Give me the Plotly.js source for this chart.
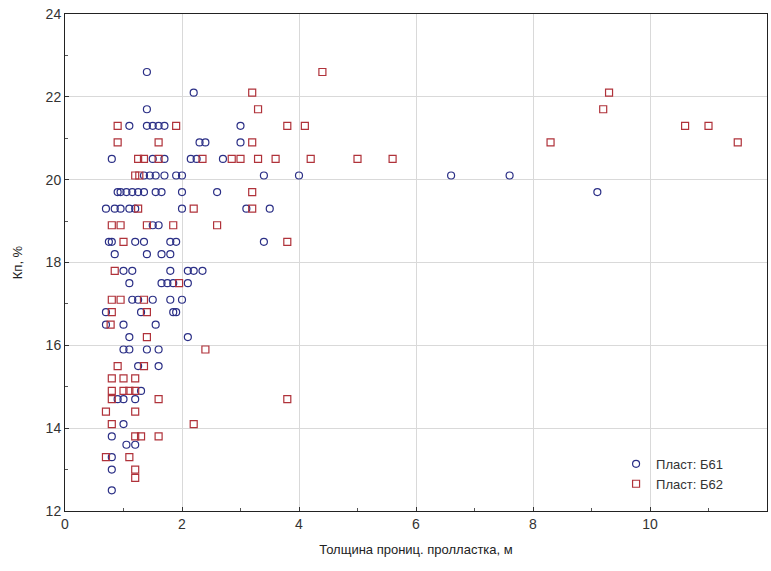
<!DOCTYPE html>
<html>
<head>
<meta charset="utf-8">
<script src="https://cdn.plot.ly/plotly-3.0.1.min.js"></script>
<style>html,body{margin:0;padding:0;background:#fff;}#chart{width:771px;height:571px;}</style>
</head>
<body>
<div id="chart"></div>
<script>
// Пласт: Б61 (circles)
const b61_x = [1.4,2.2,1.4,
  1.1,1.4,1.5,1.6,1.7,3.0,
  2.3,2.4,3.0,
  0.8,1.5,1.7,2.15,2.25,2.7,
  1.35,1.45,1.55,1.7,1.9,2.0,3.4,4.0,6.6,7.6,
  0.9,0.95,1.05,1.15,1.25,1.35,1.55,1.65,2.0,2.6,9.1,
  0.7,0.85,0.95,1.1,1.2,2.0,3.1,3.5,
  1.5,1.6,
  0.75,0.8,1.2,1.35,1.8,1.9,3.4,
  0.85,1.4,1.65,1.8,
  1.0,1.15,1.8,2.1,2.2,2.35,
  1.1,1.65,1.75,1.85,2.1,
  1.15,1.25,1.5,1.8,2.0,
  0.7,1.3,1.85,1.9,
  0.7,1.0,1.55,
  1.1,2.1,
  1.0,1.1,1.4,1.6,
  1.25,1.6,
  1.3,
  0.9,1.0,1.2,
  1.0,
  0.8,
  1.05,1.2,
  0.8,
  0.8,
  0.8];
const b61_y = [22.6,22.1,21.7,
  21.3,21.3,21.3,21.3,21.3,21.3,
  20.9,20.9,20.9,
  20.5,20.5,20.5,20.5,20.5,20.5,
  20.1,20.1,20.1,20.1,20.1,20.1,20.1,20.1,20.1,20.1,
  19.7,19.7,19.7,19.7,19.7,19.7,19.7,19.7,19.7,19.7,19.7,
  19.3,19.3,19.3,19.3,19.3,19.3,19.3,19.3,
  18.9,18.9,
  18.5,18.5,18.5,18.5,18.5,18.5,18.5,
  18.2,18.2,18.2,18.2,
  17.8,17.8,17.8,17.8,17.8,17.8,
  17.5,17.5,17.5,17.5,17.5,
  17.1,17.1,17.1,17.1,17.1,
  16.8,16.8,16.8,16.8,
  16.5,16.5,16.5,
  16.2,16.2,
  15.9,15.9,15.9,15.9,
  15.5,15.5,
  14.9,
  14.7,14.7,14.7,
  14.1,
  13.8,
  13.6,13.6,
  13.3,
  13.0,
  12.5];

// Пласт: Б62 (squares)
const b62_x = [4.4,3.2,9.3,3.3,9.2,
  0.9,1.9,3.8,4.1,10.6,11.0,
  0.9,1.6,3.2,8.3,11.5,
  1.25,1.35,1.6,2.35,2.85,3.0,3.3,3.6,4.2,5.0,5.6,
  1.2,1.27,
  3.2,
  1.25,2.2,3.2,
  0.8,0.95,1.4,1.85,2.6,
  1.0,3.8,
  0.85,
  1.95,
  0.8,0.95,1.35,
  0.8,1.4,
  0.78,
  1.4,
  2.4,
  0.9,1.35,
  0.8,1.0,1.2,
  0.8,1.0,1.1,1.2,
  0.8,1.6,3.8,
  0.7,1.2,
  0.8,2.2,
  1.2,1.3,1.6,
  0.7,1.1,
  1.2,
  1.2];
const b62_y = [22.6,22.1,22.1,21.7,21.7,
  21.3,21.3,21.3,21.3,21.3,21.3,
  20.9,20.9,20.9,20.9,20.9,
  20.5,20.5,20.5,20.5,20.5,20.5,20.5,20.5,20.5,20.5,20.5,
  20.1,20.1,
  19.7,
  19.3,19.3,19.3,
  18.9,18.9,18.9,18.9,18.9,
  18.5,18.5,
  17.8,
  17.5,
  17.1,17.1,17.1,
  16.8,16.8,
  16.5,
  16.2,
  15.9,
  15.5,15.5,
  15.2,15.2,15.2,
  14.9,14.9,14.9,14.9,
  14.7,14.7,14.7,
  14.4,14.4,
  14.1,14.1,
  13.8,13.8,13.8,
  13.3,13.3,
  13.0,
  12.8];

const xTicks = [0,2,4,6,8,10,12];
const yTicks = [12,14,16,18,20,22,24];
const seriesNames = ['Пласт: Б61','Пласт: Б62'];
const xTitle = 'Толщина прониц. пролластка, м';
const yTitle = 'Кп, %';

const FONT = 'Liberation Sans Narrow, Liberation Sans, Arial, sans-serif';

const traces = [
  {x:b61_x, y:b61_y, name:seriesNames[0], type:'scatter', mode:'markers',
   marker:{symbol:'circle-open', size:7, color:'#2b2f86', line:{width:1.2, color:'#2b2f86'}}},
  {x:b62_x, y:b62_y, name:seriesNames[1], type:'scatter', mode:'markers',
   marker:{symbol:'square-open', size:7, color:'#b0323a', line:{width:1.2, color:'#b0323a'}}}
];

const axisCommon = {
  showline:true, linecolor:'#222', linewidth:1, mirror:true,
  showgrid:true, gridcolor:'#d9d9d9', gridwidth:1, zeroline:false,
  ticks:'inside', ticklen:4, tickcolor:'#333',
  tickfont:{family:FONT, size:14, color:'#333'},
  minor:{ticks:'inside', ticklen:3, tickcolor:'#555', dtick:1, showgrid:false}
};

const layout = {
  width:771, height:571,
  margin:{l:65, r:4, t:14, b:60},
  paper_bgcolor:'#fff', plot_bgcolor:'#fff',
  showlegend:true,
  legend:{x:0.785, y:0.125, xanchor:'left', yanchor:'top', bgcolor:'rgba(255,255,255,0)',
          font:{family:FONT, size:13, color:'#333'}, tracegroupgap:0},
  xaxis:Object.assign({}, axisCommon, {range:[0,12], tickvals:xTicks, ticktext:xTicks.map(String),
          title:{text:xTitle, font:{family:FONT, size:13, color:'#222'}, standoff:14}}),
  yaxis:Object.assign({}, axisCommon, {range:[12,24], tickvals:yTicks, ticktext:yTicks.map(String),
          title:{text:yTitle, font:{family:FONT, size:13, color:'#222'}, standoff:20}})
};

Plotly.newPlot('chart', traces, layout, {displayModeBar:false, staticPlot:true});
</script>
</body>
</html>
